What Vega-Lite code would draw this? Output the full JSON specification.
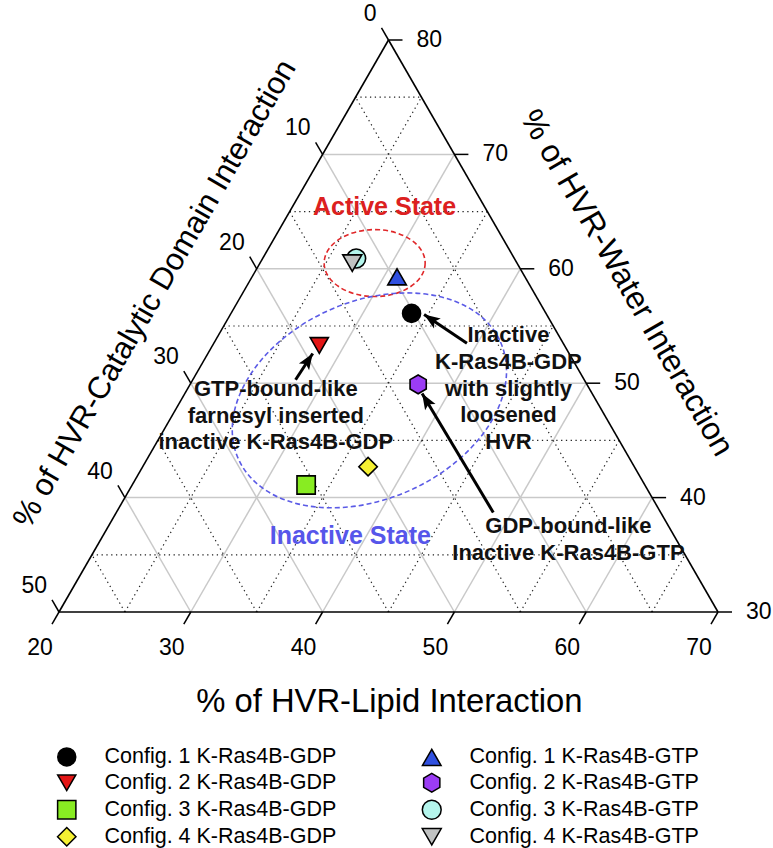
{
  "$schema": "https://vega.github.io/schema/vega-lite/v6.json",
  "width": 659,
  "height": 572,
  "autosize": {"type": "none"},
  "padding": {"left": 59, "top": 40, "right": 55, "bottom": 236},
  "config": {"view": {"stroke": null}, "font": "Liberation Sans"},
  "datasets": {
    "grid": [
      {"kind": "major", "lipid": 20, "water": 40, "lipid2": 60, "water2": 40},
      {"kind": "major", "lipid": 20, "water": 50, "lipid2": 50, "water2": 50},
      {"kind": "major", "lipid": 20, "water": 60, "lipid2": 40, "water2": 60},
      {"kind": "major", "lipid": 20, "water": 70, "lipid2": 30, "water2": 70},
      {"kind": "minor", "lipid": 20, "water": 35, "lipid2": 65, "water2": 35},
      {"kind": "minor", "lipid": 20, "water": 45, "lipid2": 55, "water2": 45},
      {"kind": "minor", "lipid": 20, "water": 55, "lipid2": 45, "water2": 55},
      {"kind": "minor", "lipid": 20, "water": 65, "lipid2": 35, "water2": 65},
      {"kind": "minor", "lipid": 20, "water": 75, "lipid2": 25, "water2": 75},
      {"kind": "major", "lipid": 30, "water": 30, "lipid2": 30, "water2": 70},
      {"kind": "major", "lipid": 40, "water": 30, "lipid2": 40, "water2": 60},
      {"kind": "major", "lipid": 50, "water": 30, "lipid2": 50, "water2": 50},
      {"kind": "major", "lipid": 60, "water": 30, "lipid2": 60, "water2": 40},
      {"kind": "minor", "lipid": 25, "water": 30, "lipid2": 25, "water2": 75},
      {"kind": "minor", "lipid": 35, "water": 30, "lipid2": 35, "water2": 65},
      {"kind": "minor", "lipid": 45, "water": 30, "lipid2": 45, "water2": 55},
      {"kind": "minor", "lipid": 55, "water": 30, "lipid2": 55, "water2": 45},
      {"kind": "minor", "lipid": 65, "water": 30, "lipid2": 65, "water2": 35},
      {"kind": "major", "lipid": 60, "water": 30, "lipid2": 20, "water2": 70},
      {"kind": "major", "lipid": 50, "water": 30, "lipid2": 20, "water2": 60},
      {"kind": "major", "lipid": 40, "water": 30, "lipid2": 20, "water2": 50},
      {"kind": "major", "lipid": 30, "water": 30, "lipid2": 20, "water2": 40},
      {"kind": "minor", "lipid": 65, "water": 30, "lipid2": 20, "water2": 75},
      {"kind": "minor", "lipid": 55, "water": 30, "lipid2": 20, "water2": 65},
      {"kind": "minor", "lipid": 45, "water": 30, "lipid2": 20, "water2": 55},
      {"kind": "minor", "lipid": 35, "water": 30, "lipid2": 20, "water2": 45},
      {"kind": "minor", "lipid": 25, "water": 30, "lipid2": 20, "water2": 35},
      {"kind": "outline", "lipid": 20, "water": 80, "lipid2": 20, "water2": 30},
      {"kind": "outline", "lipid": 20, "water": 30, "lipid2": 70, "water2": 30},
      {"kind": "outline", "lipid": 70, "water": 30, "lipid2": 20, "water2": 80}
    ],
    "ticks": [
      {"axis": "water", "label": "30", "lipid": 70, "water": 30},
      {"axis": "water", "label": "40", "lipid": 60, "water": 40},
      {"axis": "water", "label": "50", "lipid": 50, "water": 50},
      {"axis": "water", "label": "60", "lipid": 40, "water": 60},
      {"axis": "water", "label": "70", "lipid": 30, "water": 70},
      {"axis": "water", "label": "80", "lipid": 20, "water": 80},
      {"axis": "lipid", "label": "20", "lipid": 20, "water": 30},
      {"axis": "lipid", "label": "30", "lipid": 30, "water": 30},
      {"axis": "lipid", "label": "40", "lipid": 40, "water": 30},
      {"axis": "lipid", "label": "50", "lipid": 50, "water": 30},
      {"axis": "lipid", "label": "60", "lipid": 60, "water": 30},
      {"axis": "lipid", "label": "70", "lipid": 70, "water": 30},
      {"axis": "cat", "label": "0", "lipid": 20, "water": 80},
      {"axis": "cat", "label": "10", "lipid": 20, "water": 70},
      {"axis": "cat", "label": "20", "lipid": 20, "water": 60},
      {"axis": "cat", "label": "30", "lipid": 20, "water": 50},
      {"axis": "cat", "label": "40", "lipid": 20, "water": 40},
      {"axis": "cat", "label": "50", "lipid": 20, "water": 30}
    ],
    "points": [
      {"series": "Config. 1 K-Ras4B-GDP", "lipid": 33.7, "water": 56.1},
      {"series": "Config. 2 K-Ras4B-GDP", "lipid": 28.1, "water": 53.3},
      {"series": "Config. 3 K-Ras4B-GDP", "lipid": 33.2, "water": 41.1},
      {"series": "Config. 4 K-Ras4B-GDP", "lipid": 37.1, "water": 42.7},
      {"series": "Config. 1 K-Ras4B-GTP", "lipid": 31.0, "water": 59.3},
      {"series": "Config. 2 K-Ras4B-GTP", "lipid": 37.3, "water": 49.9},
      {"series": "Config. 3 K-Ras4B-GTP", "lipid": 27.1, "water": 60.9},
      {"series": "Config. 4 K-Ras4B-GTP", "lipid": 27.0, "water": 60.5}
    ],
    "arrows": [
      {"l1": 39.2, "w1": 53.5, "l2": 34.7, "w2": 56.0},
      {"l1": 27.8, "w1": 50.3, "l2": 27.95, "w2": 52.6},
      {"l1": 48.6, "w1": 38.7, "l2": 38.0, "w2": 49.1}
    ],
    "notes": [
      {"text": "Inactive\nK-Ras4B-GDP\nwith slightly\nloosened\nHVR", "lipid": 42.0, "water": 54.2},
      {"text": "GTP-bound-like\nfarnesyl inserted\ninactive K-Ras4B-GDP", "lipid": 26.7, "water": 49.5},
      {"text": "GDP-bound-like\nInactive K-Ras4B-GTP", "lipid": 54.9, "water": 37.5}
    ]
  },
  "encoding": {
    "x": {"field": "x", "type": "quantitative", "scale": {"domain": [0, 50], "nice": false, "zero": false}, "axis": null},
    "y": {"field": "y", "type": "quantitative", "scale": {"domain": [0, 50], "nice": false, "zero": false}, "axis": null}
  },
  "layer": [
    {
      "data": {"name": "grid"},
      "transform": [
        {"filter": "datum.kind == 'major'"},
        {"calculate": "datum.lipid - 20 + (datum.water - 30) / 2", "as": "x"},
        {"calculate": "datum.water - 30", "as": "y"},
        {"calculate": "datum.lipid2 - 20 + (datum.water2 - 30) / 2", "as": "x2"},
        {"calculate": "datum.water2 - 30", "as": "y2"}
      ],
      "mark": {"type": "rule", "stroke": "#c9c9c9", "strokeWidth": 1.5},
      "encoding": {"x2": {"field": "x2"}, "y2": {"field": "y2"}}
    },
    {
      "data": {"name": "grid"},
      "transform": [
        {"filter": "datum.kind == 'minor'"},
        {"calculate": "datum.lipid - 20 + (datum.water - 30) / 2", "as": "x"},
        {"calculate": "datum.water - 30", "as": "y"},
        {"calculate": "datum.lipid2 - 20 + (datum.water2 - 30) / 2", "as": "x2"},
        {"calculate": "datum.water2 - 30", "as": "y2"}
      ],
      "mark": {"type": "rule", "stroke": "#222222", "strokeWidth": 1.2, "strokeDash": [1.3, 3.5]},
      "encoding": {"x2": {"field": "x2"}, "y2": {"field": "y2"}}
    },
    {
      "data": {"name": "grid"},
      "transform": [
        {"filter": "datum.kind == 'outline'"},
        {"calculate": "datum.lipid - 20 + (datum.water - 30) / 2", "as": "x"},
        {"calculate": "datum.water - 30", "as": "y"},
        {"calculate": "datum.lipid2 - 20 + (datum.water2 - 30) / 2", "as": "x2"},
        {"calculate": "datum.water2 - 30", "as": "y2"}
      ],
      "mark": {"type": "rule", "stroke": "#000000", "strokeWidth": 1.6},
      "encoding": {"x2": {"field": "x2"}, "y2": {"field": "y2"}}
    },
    {
      "data": {"name": "ticks"},
      "transform": [
        {"filter": "datum.axis == 'water'"},
        {"calculate": "datum.lipid - 20 + (datum.water - 30) / 2", "as": "x"},
        {"calculate": "datum.water - 30", "as": "y"}
      ],
      "mark": {"type": "point", "shape": "M0,0L1,0", "size": 784, "filled": false, "stroke": "#000000", "strokeWidth": 1.5, "opacity": 1}
    },
    {
      "data": {"name": "ticks"},
      "transform": [
        {"filter": "datum.axis == 'lipid'"},
        {"calculate": "datum.lipid - 20 + (datum.water - 30) / 2", "as": "x"},
        {"calculate": "datum.water - 30", "as": "y"}
      ],
      "mark": {"type": "point", "shape": "M0,0L-0.5,0.866", "size": 784, "filled": false, "stroke": "#000000", "strokeWidth": 1.5, "opacity": 1}
    },
    {
      "data": {"name": "ticks"},
      "transform": [
        {"filter": "datum.axis == 'cat'"},
        {"calculate": "datum.lipid - 20 + (datum.water - 30) / 2", "as": "x"},
        {"calculate": "datum.water - 30", "as": "y"}
      ],
      "mark": {"type": "point", "shape": "M0,0L-0.5,-0.866", "size": 784, "filled": false, "stroke": "#000000", "strokeWidth": 1.5, "opacity": 1}
    },
    {
      "data": {"name": "ticks"},
      "transform": [
        {"filter": "datum.axis == 'water'"},
        {"calculate": "datum.lipid - 20 + (datum.water - 30) / 2", "as": "x"},
        {"calculate": "datum.water - 30", "as": "y"}
      ],
      "mark": {"type": "text", "align": "left", "baseline": "middle", "dx": 28, "fontSize": 23, "font": "Liberation Sans", "color": "#000000"},
      "encoding": {"text": {"field": "label"}}
    },
    {
      "data": {"name": "ticks"},
      "transform": [
        {"filter": "datum.axis == 'lipid'"},
        {"calculate": "datum.lipid - 20 + (datum.water - 30) / 2", "as": "x"},
        {"calculate": "datum.water - 30", "as": "y"}
      ],
      "mark": {"type": "text", "align": "center", "baseline": "middle", "dx": -19, "dy": 36, "fontSize": 23, "font": "Liberation Sans", "color": "#000000"},
      "encoding": {"text": {"field": "label"}}
    },
    {
      "data": {"name": "ticks"},
      "transform": [
        {"filter": "datum.axis == 'cat'"},
        {"calculate": "datum.lipid - 20 + (datum.water - 30) / 2", "as": "x"},
        {"calculate": "datum.water - 30", "as": "y"}
      ],
      "mark": {"type": "text", "align": "right", "baseline": "middle", "dx": -12, "dy": -26, "fontSize": 23, "font": "Liberation Sans", "color": "#000000"},
      "encoding": {"text": {"field": "label"}}
    },
    {
      "data": {"values": [{"shape": "Active ellipse", "lipid": 28.7, "water": 60.5}]},
      "transform": [
        {"calculate": "datum.lipid - 20 + (datum.water - 30) / 2", "as": "x"},
        {"calculate": "datum.water - 30", "as": "y"}
      ],
      "mark": {"type": "point", "shape": "M1,0C1,0.366,0.552,0.663,0,0.663C-0.552,0.663,-1,0.366,-1,0C-1,-0.366,-0.552,-0.663,0,-0.663C0.552,-0.663,1,-0.366,1,0Z", "size": 10201, "filled": false, "stroke": "#e0282a", "strokeWidth": 1.6, "strokeDash": [5, 3], "opacity": 1}
    },
    {
      "data": {"values": [{"shape": "Inactive ellipse", "lipid": 34.3, "water": 48.5}]},
      "transform": [
        {"calculate": "datum.lipid - 20 + (datum.water - 30) / 2", "as": "x"},
        {"calculate": "datum.water - 30", "as": "y"}
      ],
      "mark": {"type": "point", "shape": "M1,0C1,0.38,0.552,0.688,0,0.688C-0.552,0.688,-1,0.38,-1,0C-1,-0.38,-0.552,-0.688,0,-0.688C0.552,-0.688,1,-0.38,1,0Z", "size": 82369, "angle": 336, "filled": false, "stroke": "#5b5be6", "strokeWidth": 1.6, "strokeDash": [5, 3], "opacity": 1}
    },
    {
      "data": {"name": "arrows"},
      "transform": [
        {"calculate": "datum.l1 - 20 + (datum.w1 - 30) / 2", "as": "x"},
        {"calculate": "datum.w1 - 30", "as": "y"},
        {"calculate": "datum.l2 - 20 + (datum.w2 - 30) / 2", "as": "x2"},
        {"calculate": "datum.w2 - 30", "as": "y2"}
      ],
      "mark": {"type": "rule", "stroke": "#000000", "strokeWidth": 3},
      "encoding": {"x2": {"field": "x2"}, "y2": {"field": "y2"}}
    },
    {
      "data": {"name": "arrows"},
      "transform": [
        {"calculate": "datum.l2 - 20 + (datum.w2 - 30) / 2", "as": "x"},
        {"calculate": "datum.w2 - 30", "as": "y"},
        {"calculate": "atan2(-(datum.w2 - datum.w1) * 11.44, ((datum.l2 - datum.l1) + (datum.w2 - datum.w1) / 2) * 13.18) * 180 / PI", "as": "angle"}
      ],
      "mark": {"type": "point", "shape": "M0,0L-1,-0.38L-0.78,0L-1,0.38Z", "size": 1024, "filled": true, "fill": "#000000", "strokeWidth": 0, "opacity": 1},
      "encoding": {"angle": {"field": "angle", "type": "quantitative", "scale": null}}
    },
    {
      "data": {"name": "points"},
      "transform": [
        {"calculate": "datum.lipid - 20 + (datum.water - 30) / 2", "as": "x"},
        {"calculate": "datum.water - 30", "as": "y"}
      ],
      "mark": {"type": "point", "filled": true, "stroke": "#000000", "strokeWidth": 1.6, "opacity": 1},
      "encoding": {
        "fill": {
          "field": "series", "type": "nominal",
          "scale": {
            "domain": ["Config. 1 K-Ras4B-GDP", "Config. 2 K-Ras4B-GDP", "Config. 3 K-Ras4B-GDP", "Config. 4 K-Ras4B-GDP", "Config. 1 K-Ras4B-GTP", "Config. 2 K-Ras4B-GTP", "Config. 3 K-Ras4B-GTP", "Config. 4 K-Ras4B-GTP"],
            "range": ["#000000", "#e31616", "#88ec22", "#f5f032", "#3050e0", "#9b3cf5", "#b4f5ec", "#c0c2c2"]
          },
          "legend": {
            "orient": "none", "legendX": -3, "legendY": 706, "columns": 2, "columnPadding": 82, "rowPadding": 1,
            "title": null, "labelFontSize": 21.5, "labelFont": "Liberation Sans", "labelColor": "#000000",
            "labelOffset": 27, "labelLimit": 400,
            "encode": {"symbols": {"update": {"stroke": {"value": "#000000"}, "strokeWidth": {"value": 1.6}}}}
          }
        },
        "shape": {
          "field": "series", "type": "nominal",
          "scale": {
            "domain": ["Config. 1 K-Ras4B-GDP", "Config. 2 K-Ras4B-GDP", "Config. 3 K-Ras4B-GDP", "Config. 4 K-Ras4B-GDP", "Config. 1 K-Ras4B-GTP", "Config. 2 K-Ras4B-GTP", "Config. 3 K-Ras4B-GTP", "Config. 4 K-Ras4B-GTP"],
            "range": ["circle", "triangle-down", "square", "diamond", "triangle-up", "M0,-1L0.866,-0.5L0.866,0.5L0,1L-0.866,0.5L-0.866,-0.5Z", "circle", "triangle-down"]
          },
          "legend": {
            "orient": "none", "legendX": -3, "legendY": 706, "columns": 2, "columnPadding": 82, "rowPadding": 1,
            "title": null, "labelFontSize": 21.5, "labelFont": "Liberation Sans", "labelColor": "#000000",
            "labelOffset": 27, "labelLimit": 400,
            "encode": {"symbols": {"update": {"stroke": {"value": "#000000"}, "strokeWidth": {"value": 1.6}}}}
          }
        },
        "size": {
          "field": "series", "type": "nominal",
          "scale": {
            "domain": ["Config. 1 K-Ras4B-GDP", "Config. 2 K-Ras4B-GDP", "Config. 3 K-Ras4B-GDP", "Config. 4 K-Ras4B-GDP", "Config. 1 K-Ras4B-GTP", "Config. 2 K-Ras4B-GTP", "Config. 3 K-Ras4B-GTP", "Config. 4 K-Ras4B-GTP"],
            "range": [324, 361, 230, 440, 361, 324, 300, 361]
          },
          "legend": {
            "orient": "none", "legendX": -3, "legendY": 706, "columns": 2, "columnPadding": 82, "rowPadding": 1,
            "title": null, "labelFontSize": 21.5, "labelFont": "Liberation Sans", "labelColor": "#000000",
            "labelOffset": 27, "labelLimit": 400,
            "encode": {"symbols": {"update": {"stroke": {"value": "#000000"}, "strokeWidth": {"value": 1.6}}}}
          }
        }
      }
    },
    {
      "data": {"name": "notes"},
      "transform": [
        {"calculate": "datum.lipid - 20 + (datum.water - 30) / 2", "as": "x"},
        {"calculate": "datum.water - 30", "as": "y"}
      ],
      "mark": {"type": "text", "align": "center", "baseline": "middle", "lineBreak": "\n", "lineHeight": 26.7, "fontSize": 22, "fontWeight": "bold", "font": "Liberation Sans", "color": "#111111"},
      "encoding": {"text": {"field": "text"}}
    },
    {
      "data": {"values": [{"text": "Active State", "lipid": 27.0, "water": 65.4}]},
      "transform": [
        {"calculate": "datum.lipid - 20 + (datum.water - 30) / 2", "as": "x"},
        {"calculate": "datum.water - 30", "as": "y"}
      ],
      "mark": {"type": "text", "align": "center", "baseline": "middle", "fontSize": 25, "fontWeight": "bold", "font": "Liberation Sans", "color": "#dc2020"},
      "encoding": {"text": {"field": "text"}}
    },
    {
      "data": {"values": [{"text": "Inactive State", "lipid": 38.8, "water": 36.6}]},
      "transform": [
        {"calculate": "datum.lipid - 20 + (datum.water - 30) / 2", "as": "x"},
        {"calculate": "datum.water - 30", "as": "y"}
      ],
      "mark": {"type": "text", "align": "center", "baseline": "middle", "fontSize": 25, "fontWeight": "bold", "font": "Liberation Sans", "color": "#5656ea"},
      "encoding": {"text": {"field": "text"}}
    },
    {
      "data": {"values": [{"text": "% of HVR-Lipid Interaction", "lipid": 49.0, "water": 22.13}]},
      "transform": [
        {"calculate": "datum.lipid - 20 + (datum.water - 30) / 2", "as": "x"},
        {"calculate": "datum.water - 30", "as": "y"}
      ],
      "mark": {"type": "text", "align": "center", "baseline": "middle", "fontSize": 32.8, "font": "Liberation Sans", "color": "#000000"},
      "encoding": {"text": {"field": "text"}}
    },
    {
      "data": {"values": [{"text": "% of HVR-Catalytic Domain Interaction", "lipid": 13.4, "water": 57.8}]},
      "transform": [
        {"calculate": "datum.lipid - 20 + (datum.water - 30) / 2", "as": "x"},
        {"calculate": "datum.water - 30", "as": "y"}
      ],
      "mark": {"type": "text", "align": "center", "baseline": "middle", "angle": 300, "fontSize": 31, "font": "Liberation Sans", "color": "#000000"},
      "encoding": {"text": {"field": "text"}}
    },
    {
      "data": {"values": [{"text": "% of HVR-Water Interaction", "lipid": 48.7, "water": 58.76}]},
      "transform": [
        {"calculate": "datum.lipid - 20 + (datum.water - 30) / 2", "as": "x"},
        {"calculate": "datum.water - 30", "as": "y"}
      ],
      "mark": {"type": "text", "align": "center", "baseline": "middle", "angle": 60, "fontSize": 32, "font": "Liberation Sans", "color": "#000000"},
      "encoding": {"text": {"field": "text"}}
    }
  ]
}
